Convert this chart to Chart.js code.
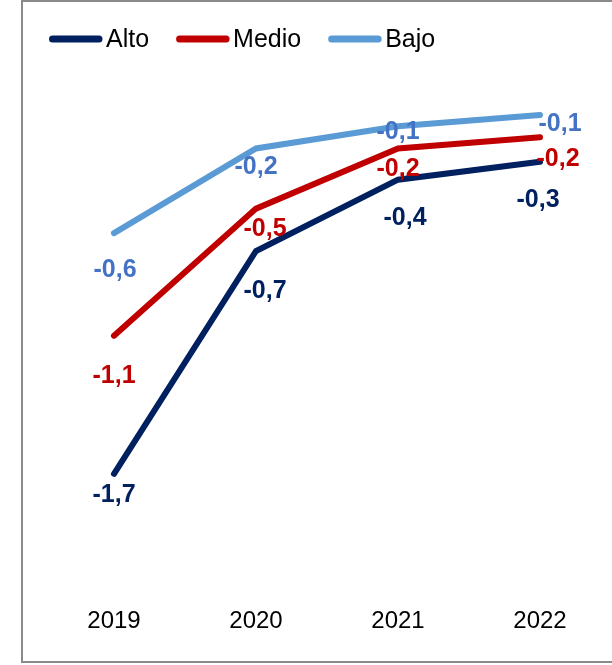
<!DOCTYPE html>
<html>
<head>
<meta charset="utf-8">
<script src="https://cdn.jsdelivr.net/npm/chart.js@4"></script>
<style>
    html, body { margin: 0; padding: 0; background: #fff; overflow: hidden; }
    .wrap { position: relative; width: 612px; height: 665px; overflow: hidden; }
    .frame {
        position: absolute; left: 21px; top: 0; width: 700px; height: 663px;
        border: 2px solid #8a8a8a; box-sizing: border-box;
    }
    #chart { position: absolute; left: 0; top: 0; }
</style>
</head>
<body>
<div class="wrap">
    <div class="frame"></div>
    <canvas id="chart" width="612" height="665"></canvas>
</div>
<script>
// Data
const years = ['2019', '2020', '2021', '2022'];
const alto = [-1.70, -0.70, -0.38, -0.30];
const medio = [-1.08, -0.51, -0.24, -0.19];
const bajo = [-0.62, -0.24, -0.14, -0.09];

const FONT = '"Liberation Sans", Arial, sans-serif';

// Legend drawn by hand: long rounded line + label, like the original
const lineLegend = {
    id: 'lineLegend',
    afterDraw(chart) {
        const ctx = chart.ctx;
        let x = 49;
        const y = 39;
        ctx.save();
        ctx.font = '25px ' + FONT;
        ctx.textBaseline = 'middle';
        ctx.textAlign = 'left';
        chart.data.datasets.forEach(ds => {
            ctx.strokeStyle = ds.borderColor;
            ctx.lineWidth = 7;
            ctx.lineCap = 'round';
            ctx.beginPath();
            ctx.moveTo(x + 3.5, y);
            ctx.lineTo(x + 50, y);
            ctx.stroke();
            ctx.fillStyle = '#000';
            ctx.fillText(ds.label, x + 57, y + 1);
            x += 57 + ctx.measureText(ds.label).width + 27;
        });
        ctx.restore();
    }
};

// Value labels next to each point
const valueLabels = {
    id: 'valueLabels',
    afterDatasetsDraw(chart) {
        const ctx = chart.ctx;
        ctx.save();
        ctx.font = 'bold 25px ' + FONT;
        ctx.textAlign = 'center';
        ctx.textBaseline = 'middle';
        chart.data.datasets.forEach((ds, i) => {
            const meta = chart.getDatasetMeta(i);
            meta.data.forEach((pt, j) => {
                const off = ds.labelOffsets[j];
                const txt = ds.data[j].toFixed(1).replace('.', ',');
                ctx.fillStyle = ds.labelColor;
                ctx.fillText(txt, pt.x + off[0], pt.y + off[1]);
            });
        });
        ctx.restore();
    }
};

const ctx = document.getElementById('chart').getContext('2d');
const chart = new Chart(ctx, {
    type: 'line',
    data: {
        labels: years,
        datasets: [
            {
                label: 'Alto',
                data: alto,
                borderColor: '#002060',
                labelColor: '#002060',
                labelOffsets: [[0, 21], [9, 40], [7, 38], [-2, 38]]
            },
            {
                label: 'Medio',
                data: medio,
                borderColor: '#c00000',
                labelColor: '#c00000',
                labelOffsets: [[0, 40], [9, 20], [0, 21], [18, 22]]
            },
            {
                label: 'Bajo',
                data: bajo,
                borderColor: '#5b9bd5',
                labelColor: '#4472c4',
                labelOffsets: [[1, 37], [0, 19], [0, 6], [20, 9]]
            }
        ]
    },
    options: {
        responsive: false,
        animation: false,
        layout: {
            padding: { left: 43, right: 1, top: 95, bottom: 7 }
        },
        elements: {
            line: {
                borderWidth: 6,
                tension: 0,
                borderCapStyle: 'round',
                fill: false
            },
            point: { radius: 0, hoverRadius: 0 }
        },
        plugins: {
            legend: { display: false },
            tooltip: { enabled: false }
        },
        scales: {
            x: {
                offset: true,
                grid: { display: false, drawTicks: false },
                border: { display: false },
                ticks: {
                    color: '#000',
                    padding: 22,
                    font: { family: FONT, size: 24 }
                }
            },
            y: {
                display: false,
                min: -2.2,
                max: 0
            }
        }
    },
    plugins: [valueLabels, lineLegend]
});
</script>
</body>
</html>
